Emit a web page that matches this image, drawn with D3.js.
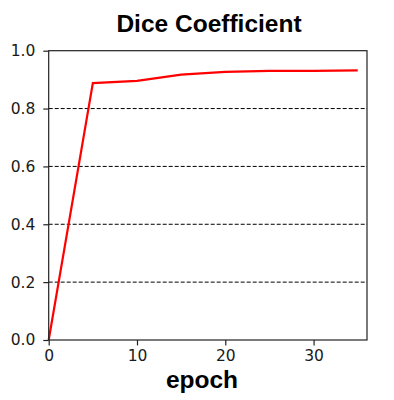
<!DOCTYPE html>
<html><head><meta charset="utf-8">
<script src="https://cdn.jsdelivr.net/npm/d3@7"></script>
<style>body{margin:0;background:#fff}</style>
</head><body>
<svg id="c" width="394" height="400"></svg>
<script>
const epochs = [0, 5, 10, 15, 20, 25, 30, 35];
const dice = [0.0, 0.888, 0.896, 0.917, 0.927, 0.930, 0.930, 0.932];
const xTicks = [0, 10, 20, 30];
const yTicks = [0.0, 0.2, 0.4, 0.6, 0.8, 1.0];
const title = "Dice Coefficient";
const xLabel = "epoch";

const svg = d3.select("#c");
const L = 48.7, R = 367, T = 50.7, B = 340;
const x = d3.scaleLinear().domain([0, 36.05]).range([L, R]);
const y = d3.scaleLinear().domain([0, 1]).range([B, T]);

// grid
svg.append("g").selectAll("line").data(yTicks.filter(v => v > 0 && v < 1)).join("line")
  .attr("x1", L).attr("x2", R).attr("y1", d => y(d)).attr("y2", d => y(d))
  .attr("stroke", "#000").attr("stroke-width", 1).attr("stroke-dasharray", "4,2");

// line
svg.append("path").datum(epochs.map((e, i) => [e, dice[i]]))
  .attr("d", d3.line().x(d => x(d[0])).y(d => y(d[1])))
  .attr("fill", "none").attr("stroke", "#ff0000").attr("stroke-width", 2.2);

// frame
svg.append("rect").attr("x", L).attr("y", T).attr("width", R - L).attr("height", B - T)
  .attr("fill", "none").attr("stroke", "#222").attr("stroke-width", 1.2);

const xa = svg.append("g").attr("transform", `translate(0,${B})`)
  .call(d3.axisBottom(x).tickValues(xTicks).tickSize(5.4).tickPadding(5).tickFormat(d3.format("d")));
const ya = svg.append("g").attr("transform", `translate(${L},0)`)
  .call(d3.axisLeft(y).tickValues(yTicks).tickSize(5.4).tickPadding(8).tickFormat(d3.format(".1f")));
[xa, ya].forEach(a => {
  a.select(".domain").remove();
  a.selectAll(".tick line").attr("stroke", "#222").attr("stroke-width", 1.2);
  a.selectAll("text").attr("fill", "#1a1a1a").style("font-family", "DejaVu Sans").style("font-size", "15.5px");
});

svg.append("text").attr("x", 209).attr("y", 32).attr("text-anchor", "middle")
  .style("font-family", "Liberation Sans, Arial").style("font-weight", "bold").style("font-size", "24.5px")
  .text(title);
svg.append("text").attr("x", 202).attr("y", 388).attr("text-anchor", "middle")
  .style("font-family", "Liberation Sans, Arial").style("font-weight", "bold").style("font-size", "24.5px")
  .text(xLabel);
</script>
</body></html>
